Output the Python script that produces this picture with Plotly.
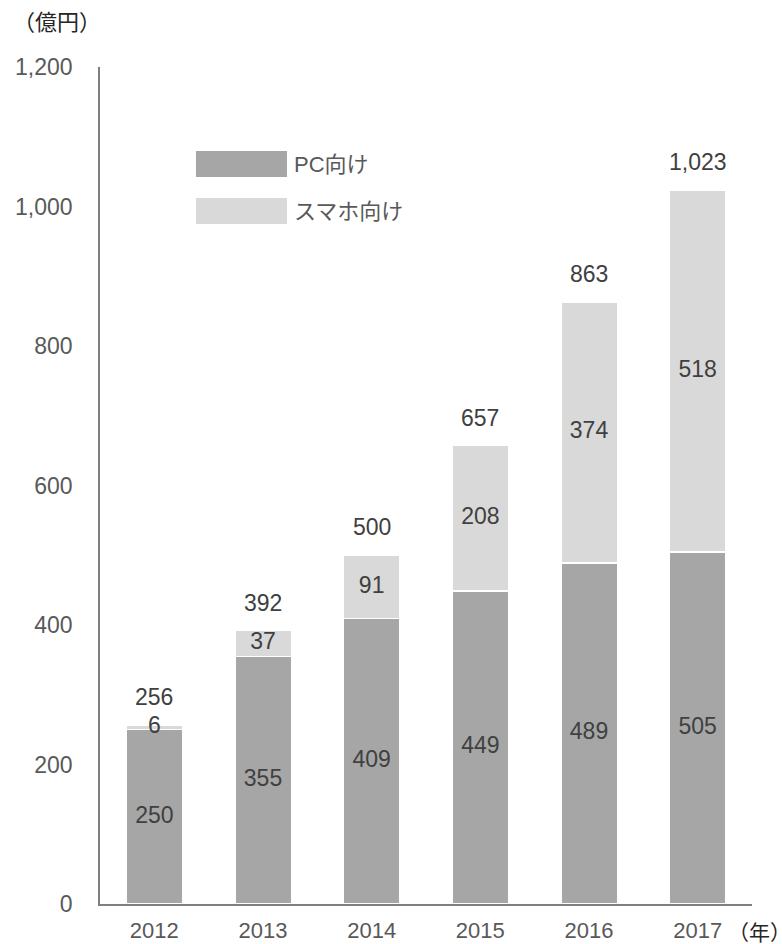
import plotly.graph_objects as go

years = ["2012", "2013", "2014", "2015", "2016", "2017"]
pc = [250, 355, 409, 449, 489, 505]
sp = [6, 37, 91, 208, 374, 518]
totals = [256, 392, 500, 657, 863, 1023]
series_names = ["PC向け", "スマホ向け"]
colors = ["#A6A6A6", "#D9D9D9"]
y_ticks = [0, 200, 400, 600, 800, 1000, 1200]
y_tick_text = ["0", "200", "400", "600", "800", "1,000", "1,200"]

FONT = "Liberation Sans, Arial, Noto Sans CJK JP, sans-serif"
LABEL_C = "#404040"
TICK_C = "#595959"
FS = 23

fig = go.Figure()
fig.add_trace(go.Bar(x=years, y=pc, name=series_names[0], marker=dict(color=colors[0], line=dict(color="white", width=1.5)), showlegend=False))
fig.add_trace(go.Bar(x=years, y=sp, name=series_names[1], marker=dict(color=colors[1], line=dict(color="white", width=1.5)), showlegend=False))

# segment labels
fig.add_trace(go.Scatter(x=years, y=[v / 2 for v in pc], mode="text", text=[str(v) for v in pc],
                         textfont=dict(size=FS, color=LABEL_C, family=FONT), showlegend=False))
fig.add_trace(go.Scatter(x=years, y=[p + s / 2 for p, s in zip(pc, sp)], mode="text", text=[str(v) for v in sp],
                         textfont=dict(size=FS, color=LABEL_C, family=FONT), showlegend=False))

annotations = []
for i, t in enumerate(totals):
    annotations.append(dict(x=i, y=t, xref="x", yref="y", text=f"{t:,}", showarrow=False,
                            yanchor="middle", yshift=28, font=dict(size=FS, color=LABEL_C, family=FONT)))

# axis titles
annotations.append(dict(xref="paper", yref="paper", x=-0.137, y=1.0526, xanchor="left", yanchor="middle",
                        text="（億円）", showarrow=False, font=dict(size=22, color="#262626", family=FONT)))
annotations.append(dict(xref="paper", yref="paper", x=0.96, y=0, yshift=-28, xanchor="left", yanchor="middle",
                        text="（年）", showarrow=False, font=dict(size=21, color="#262626", family=FONT)))

# legend
shapes = []
leg_y = [(0.8996, 0.8686), (0.8435, 0.8124)]
for name, c, (y1, y0) in zip(series_names, colors, leg_y):
    shapes.append(dict(type="rect", xref="paper", yref="paper", x0=0.1472, x1=0.2868, y0=y0, y1=y1,
                       fillcolor=c, line=dict(width=0)))
    annotations.append(dict(xref="paper", yref="paper", x=0.2945, y=(y0 + y1) / 2, xanchor="left", yanchor="middle",
                            text=name, showarrow=False, font=dict(size=22, color=TICK_C, family=FONT)))

fig.update_layout(
    width=782, height=944,
    margin=dict(l=100, r=30, t=67, b=40),
    paper_bgcolor="white", plot_bgcolor="white",
    barmode="stack", bargap=0.48,
    font=dict(family=FONT, color=TICK_C, size=FS),
    annotations=annotations, shapes=shapes, hovermode=False,
    xaxis=dict(type="category", range=[-0.5, len(years) - 0.5], showline=True, linecolor="#808080", linewidth=1.5,
               showgrid=False, ticks="outside", ticklen=6, tickcolor="rgba(0,0,0,0)",
               tickfont=dict(size=22, color=TICK_C), automargin=False),
    yaxis=dict(range=[0, 1200], tickvals=y_ticks, ticktext=y_tick_text, showline=True, linecolor="#808080",
               linewidth=1.5, showgrid=False, zeroline=False, automargin=False,
               ticks="outside", ticklen=21, tickcolor="rgba(0,0,0,0)",
               tickfont=dict(size=FS, color=TICK_C)),
)

fig.write_html("out.html")
